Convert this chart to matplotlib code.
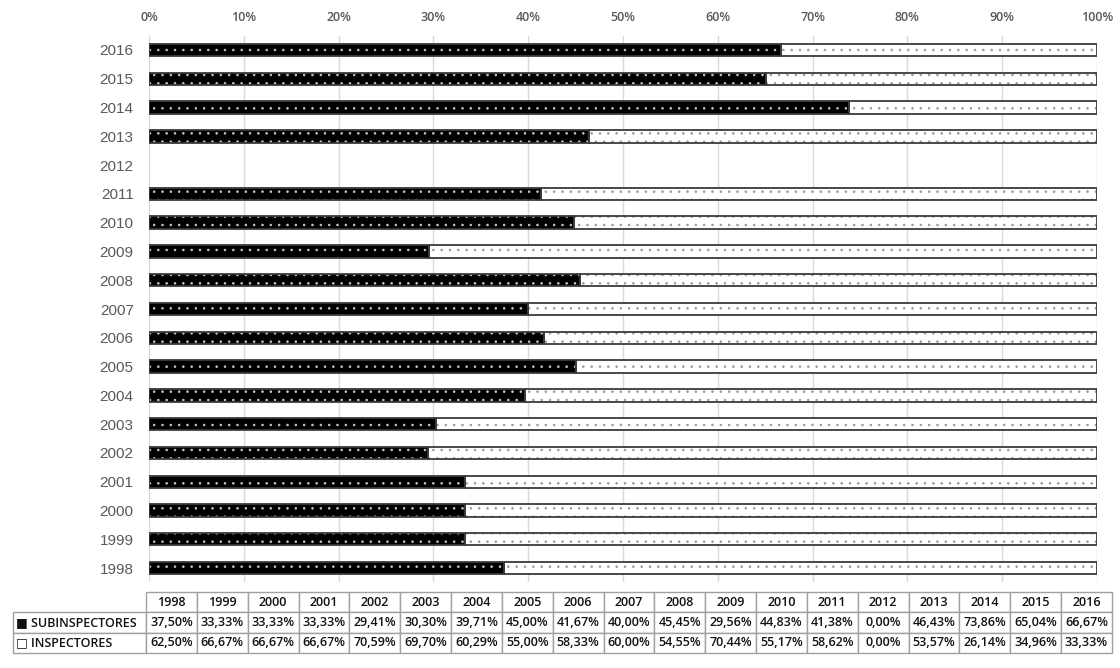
import matplotlib
matplotlib.use("Agg")
import matplotlib.pyplot as plt
from matplotlib.ticker import PercentFormatter

# Datos: porcentaje de subinspectores / inspectores por año
anios = ['1998', '1999', '2000', '2001', '2002', '2003', '2004', '2005', '2006', '2007',
         '2008', '2009', '2010', '2011', '2012', '2013', '2014', '2015', '2016']
subinspectores = [37.50, 33.33, 33.33, 33.33, 29.41, 30.30, 39.71, 45.00, 41.67, 40.00,
                  45.45, 29.56, 44.83, 41.38, 0.00, 46.43, 73.86, 65.04, 66.67]
inspectores = [62.50, 66.67, 66.67, 66.67, 70.59, 69.70, 60.29, 55.00, 58.33, 60.00,
               54.55, 70.44, 55.17, 58.62, 0.00, 53.57, 26.14, 34.96, 33.33]
series = ['SUBINSPECTORES', 'INSPECTORES']
marcas = ['\u25a0', '\u25a1']

plt.rcParams['hatch.linewidth'] = 0.6
gris_texto = '#595959'
borde = '#3a3a3a'
fuente = ['Open Sans', 'DejaVu Sans']

fig = plt.figure(figsize=(11.2, 6.68), dpi=100)
ax = fig.add_axes([0.1330, 0.1281, 0.8464, 0.8186])

y = list(range(len(anios)))
alto = 0.43

# Barras negras con trama de puntos blancos
ax.barh(y, subinspectores, height=alto, color='black', edgecolor='#c8c8c8',
        hatch='..', linewidth=0, zorder=2)
# Barras blancas con trama de puntos grises
ax.barh(y, inspectores, left=subinspectores, height=alto, color='white',
        edgecolor='#9a9a9a', hatch='..', linewidth=0, zorder=2)
# Contornos (solo años con datos)
idx = [i for i in y if subinspectores[i] + inspectores[i] > 0]
ax.barh(idx, [subinspectores[i] for i in idx], height=alto, fill=False,
        edgecolor=borde, linewidth=1.3, zorder=3)
ax.barh(idx, [inspectores[i] for i in idx], left=[subinspectores[i] for i in idx],
        height=alto, fill=False, edgecolor=borde, linewidth=1.3, zorder=3)

ax.set_xlim(0, 100)
ax.set_ylim(-0.5, len(anios) - 0.5)
ax.set_xticks(range(0, 101, 10))
ax.xaxis.set_major_formatter(PercentFormatter(decimals=0))
ax.xaxis.tick_top()
ax.set_yticks(y)
ax.set_yticklabels(anios, fontsize=11, color=gris_texto, family='Liberation Sans')
for lab in ax.get_xticklabels():
    lab.set_fontsize(9)
    lab.set_color(gris_texto)
    lab.set_family(fuente)
    lab.set_fontweight('semibold')
ax.tick_params(axis='both', length=0)
ax.tick_params(axis='x', pad=8)
ax.tick_params(axis='y', pad=11)
ax.grid(axis='x', color='#d9d9d9', linewidth=1, zorder=0)
for s in ax.spines.values():
    s.set_visible(False)

# Tabla de datos bajo el gráfico
filas = []
for i, (nombre, vals) in enumerate(zip(series, [subinspectores, inspectores])):
    filas.append([marcas[i] + ' ' + nombre] + [f'{v:.2f}%'.replace('.', ',') for v in vals])
anchos = [133] + [50.8] * len(anios)
tabla = ax.table(cellText=filas, colLabels=[''] + anios, colWidths=anchos,
                 cellLoc='center', bbox=[-0.1435, -0.1291, 1.1593, 0.1116])
tabla.auto_set_font_size(False)
for (r, c), cell in tabla.get_celld().items():
    cell.set_edgecolor('#a0a0a0')
    cell.set_linewidth(1)
    cell.PAD = 0.02
    txt = cell.get_text()
    txt.set_fontsize(9)
    txt.set_family(fuente)
    txt.set_fontweight('semibold')
    txt.set_color('#111111')
    if c == 0:
        cell._loc = 'left'
        txt.set_horizontalalignment('left')
tabla[0, 0].visible_edges = ''

fig.savefig('out.png', dpi=100, facecolor='white')
